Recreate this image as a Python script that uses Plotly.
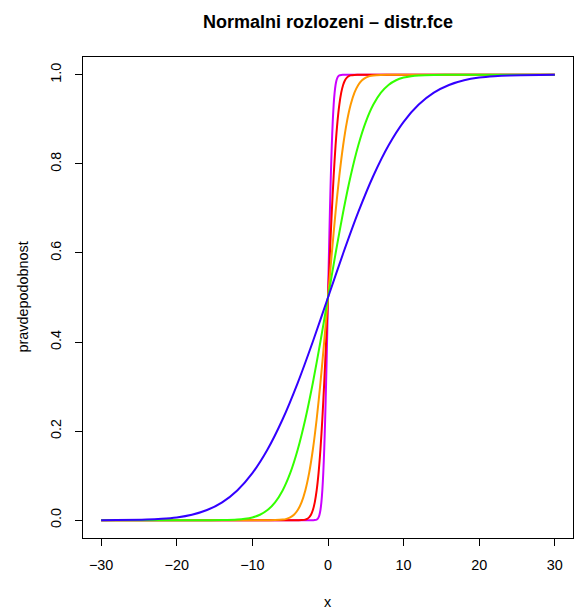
import plotly.graph_objects as go

# Probability levels (shared levels)
p_levels = [0.0000, 0.0002, 0.0013, 0.0030, 0.0062, 0.0122, 0.0228, 0.0401, 0.0668,
            0.1056, 0.1587, 0.2266, 0.3085, 0.4013, 0.5000, 0.5987, 0.6915, 0.7734,
            0.8413, 0.8944, 0.9332, 0.9599, 0.9772, 0.9878, 0.9938, 0.9970, 0.9987,
            0.9998, 1.0000]

# x positions at which each curve reaches the levels above
x_magenta = [-2.0, -1.75, -1.5, -1.375, -1.25, -1.125, -1.0, -0.875, -0.75, -0.625, -0.5,
             -0.375, -0.25, -0.125, 0.0, 0.125, 0.25, 0.375, 0.5, 0.625, 0.75, 0.875,
             1.0, 1.125, 1.25, 1.375, 1.5, 1.75, 2.0]
x_red = [-4.0, -3.5, -3.0, -2.75, -2.5, -2.25, -2.0, -1.75, -1.5, -1.25, -1.0, -0.75,
         -0.5, -0.25, 0.0, 0.25, 0.5, 0.75, 1.0, 1.25, 1.5, 1.75, 2.0, 2.25, 2.5, 2.75,
         3.0, 3.5, 4.0]
x_orange = [-8.0, -7.0, -6.0, -5.5, -5.0, -4.5, -4.0, -3.5, -3.0, -2.5, -2.0, -1.5,
            -1.0, -0.5, 0.0, 0.5, 1.0, 1.5, 2.0, 2.5, 3.0, 3.5, 4.0, 4.5, 5.0, 5.5,
            6.0, 7.0, 8.0]
x_green = [-16, -14, -12, -11, -10, -9, -8, -7, -6, -5, -4, -3, -2, -1, 0, 1, 2, 3, 4,
           5, 6, 7, 8, 9, 10, 11, 12, 14, 16]
x_blue = [-30, -28, -24, -22, -20, -18, -16, -14, -12, -10, -8, -6, -4, -2, 0, 2, 4, 6,
          8, 10, 12, 14, 16, 18, 20, 22, 24, 28, 30]

x_min, x_max = -30, 30
x_ticks = [-30, -20, -10, 0, 10, 20, 30]
x_tick_text = ["\u221230", "\u221220", "\u221210", "0", "10", "20", "30"]
y_ticks = [0.0, 0.2, 0.4, 0.6, 0.8, 1.0]
y_tick_text = ["0.0", "0.2", "0.4", "0.6", "0.8", "1.0"]

curves = [
    (x_magenta, "#CC00FF"),
    (x_red, "#FF0000"),
    (x_orange, "#FF9900"),
    (x_green, "#33FF00"),
    (x_blue, "#3300FF"),
]

fig = go.Figure()
for xs, col in curves:
    xx = list(xs)
    yy = list(p_levels)
    if xx[0] > x_min:
        xx = [x_min] + xx
        yy = [0.0] + yy
    if xx[-1] < x_max:
        xx = xx + [x_max]
        yy = yy + [1.0]
    fig.add_trace(go.Scatter(x=xx, y=yy, mode="lines",
                             line=dict(color=col, width=2, shape="spline", smoothing=0.8),
                             showlegend=False, hoverinfo="skip"))

font_family = "Liberation Sans, Arial, Helvetica, sans-serif"
fs = 14.4

fig.update_layout(
    width=579, height=610,
    margin=dict(l=83, r=6, t=57, b=72, autoexpand=False),
    paper_bgcolor="white", plot_bgcolor="white",
    font=dict(family=font_family, size=fs, color="black"),
    xaxis=dict(range=[-32.4, 32.4], tickvals=x_ticks, ticktext=x_tick_text,
               ticks="outside", ticklen=7,
               tickcolor="black", showline=True, mirror=True, linecolor="black",
               linewidth=1, showgrid=False, zeroline=False, automargin=False,
               ticklabelstandoff=7,
               tickfont=dict(size=fs, family=font_family)),
    yaxis=dict(range=[-0.04, 1.04], tickvals=y_ticks, ticktext=y_tick_text,
               ticks="outside", ticklen=7, tickcolor="black", showline=True,
               mirror=True, linecolor="black", linewidth=1, showgrid=False,
               zeroline=False, tickangle=-90, automargin=False,
               ticklabelstandoff=8,
               tickfont=dict(size=fs, family=font_family)),
    annotations=[
        dict(text="<b>Normalni rozlozeni \u2013 distr.fce</b>", xref="paper", yref="paper",
             x=0.5, y=1 + (57 - 22) / 481, xanchor="center", yanchor="middle",
             showarrow=False, font=dict(size=18, family=font_family)),
        dict(text="x", xref="paper", yref="paper", x=0.5, y=-(602 - 538) / 481,
             xanchor="center", yanchor="middle", showarrow=False,
             font=dict(size=fs, family=font_family)),
        dict(text="pravdepodobnost", xref="paper", yref="paper", x=(22 - 83) / 490,
             y=0.5, xanchor="center", yanchor="middle", textangle=-90, showarrow=False,
             font=dict(size=fs, family=font_family)),
    ],
)

fig.write_html("out.html",
               config={"displayModeBar": False, "staticPlot": True},
               post_script="document.body.style.margin='0';document.body.style.overflow='hidden';")
